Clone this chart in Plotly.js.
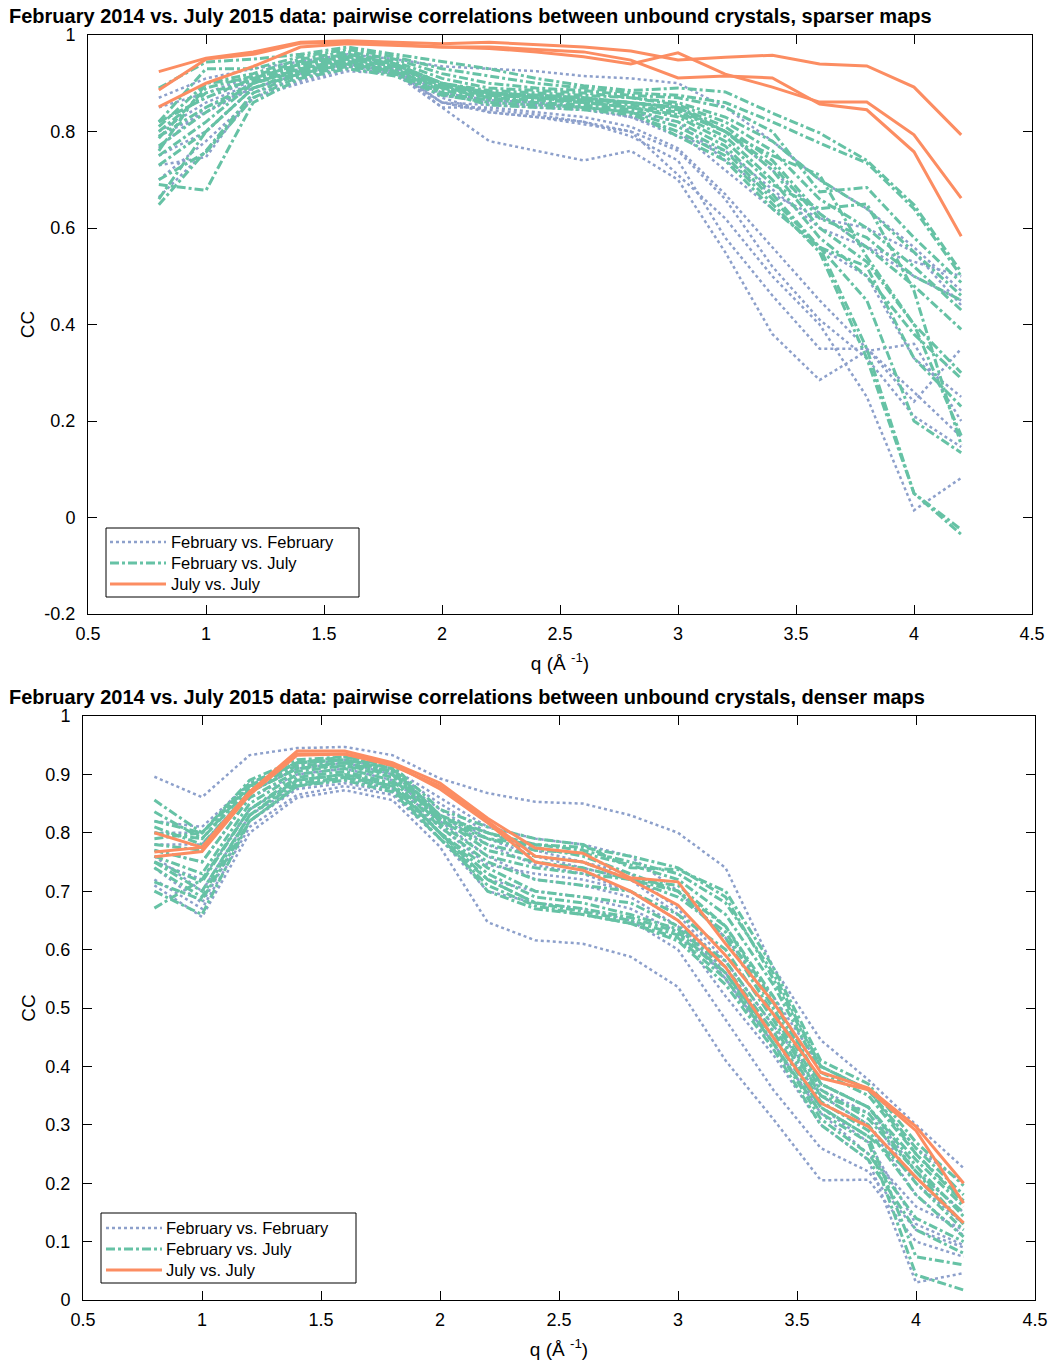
<!DOCTYPE html>
<html>
<head>
<meta charset="utf-8">
<script src="https://cdn.plot.ly/plotly-3.0.1.min.js"></script>
<style>html,body{margin:0;padding:0;background:#fff;}#chart{width:1049px;height:1365px;}</style>
</head>
<body>
<div id="chart"></div>
<script>
// q values (Å^-1)
const q = [0.8,1.0,1.2,1.4,1.6,1.8,2.0,2.2,2.4,2.6,2.8,3.0,3.2,3.4,3.6,3.8,4.0,4.2];

const seriesNames = ["February vs. February", "February vs. July", "July vs. July"];
const titleSparse = "February 2014 vs. July 2015 data: pairwise correlations between unbound crystals, sparser maps";
const titleDense  = "February 2014 vs. July 2015 data: pairwise correlations between unbound crystals, denser maps";
const xTickVals = [0.5,1,1.5,2,2.5,3,3.5,4,4.5];
const xTickText = ["0.5","1","1.5","2","2.5","3","3.5","4","4.5"];
const yTickValsSparse = [-0.2,0,0.2,0.4,0.6,0.8,1];
const yTickTextSparse = ["-0.2","0","0.2","0.4","0.6","0.8","1"];
const yTickValsDense = [0,0.1,0.2,0.3,0.4,0.5,0.6,0.7,0.8,0.9,1];
const yTickTextDense = ["0","0.1","0.2","0.3","0.4","0.5","0.6","0.7","0.8","0.9","1"];

// ---- sparser maps ----
const sparseFebFeb = [
  [0.87,0.91,0.93,0.945,0.96,0.95,0.935,0.93,0.925,0.915,0.91,0.90,0.85,0.78,0.70,0.64,0.56,0.47],
  [0.85,0.88,0.915,0.94,0.955,0.94,0.89,0.88,0.875,0.87,0.86,0.85,0.80,0.72,0.63,0.56,0.50,0.45],
  [0.80,0.86,0.90,0.93,0.945,0.93,0.86,0.855,0.85,0.845,0.83,0.79,0.76,0.68,0.60,0.56,0.53,0.50],
  [0.766,0.85,0.89,0.92,0.94,0.925,0.85,0.85,0.84,0.83,0.81,0.765,0.67,0.56,0.45,0.35,0.24,0.35],
  [0.664,0.76,0.87,0.905,0.93,0.92,0.85,0.78,0.76,0.74,0.76,0.70,0.55,0.38,0.285,0.345,0.36,0.20],
  [0.73,0.747,0.88,0.91,0.935,0.925,0.86,0.845,0.835,0.82,0.79,0.74,0.58,0.46,0.35,0.35,0.26,0.167],
  [0.75,0.80,0.89,0.92,0.94,0.93,0.87,0.84,0.83,0.815,0.80,0.76,0.66,0.52,0.41,0.33,0.21,0.146],
  [0.70,0.78,0.87,0.90,0.925,0.92,0.86,0.84,0.83,0.82,0.80,0.71,0.62,0.50,0.40,0.25,0.015,0.082],
  [0.79,0.84,0.89,0.915,0.94,0.93,0.88,0.865,0.86,0.85,0.83,0.80,0.72,0.64,0.56,0.50,0.33,0.25],
  [0.82,0.87,0.905,0.93,0.95,0.935,0.875,0.86,0.855,0.85,0.84,0.82,0.74,0.67,0.62,0.60,0.55,0.44]
];
const sparseFebJul = [
  [0.89,0.944,0.95,0.96,0.975,0.96,0.945,0.93,0.91,0.895,0.885,0.89,0.882,0.838,0.797,0.74,0.648,0.509],
  [0.82,0.93,0.93,0.955,0.97,0.955,0.93,0.915,0.90,0.89,0.88,0.875,0.86,0.82,0.776,0.735,0.64,0.50],
  [0.81,0.90,0.92,0.95,0.965,0.95,0.92,0.90,0.89,0.885,0.875,0.87,0.85,0.80,0.675,0.684,0.58,0.487],
  [0.786,0.89,0.915,0.945,0.96,0.945,0.91,0.89,0.885,0.88,0.87,0.86,0.83,0.78,0.70,0.64,0.55,0.46],
  [0.82,0.87,0.91,0.94,0.955,0.94,0.90,0.885,0.88,0.875,0.87,0.855,0.82,0.76,0.66,0.60,0.52,0.43],
  [0.79,0.85,0.90,0.93,0.95,0.935,0.895,0.88,0.875,0.87,0.86,0.85,0.81,0.74,0.63,0.56,0.48,0.39],
  [0.75,0.82,0.90,0.925,0.945,0.93,0.89,0.875,0.87,0.865,0.855,0.84,0.80,0.72,0.60,0.53,0.40,0.30],
  [0.73,0.80,0.89,0.92,0.94,0.925,0.885,0.87,0.865,0.86,0.85,0.835,0.79,0.70,0.58,0.50,0.38,0.288],
  [0.70,0.757,0.87,0.915,0.935,0.92,0.88,0.865,0.86,0.855,0.845,0.82,0.77,0.67,0.56,0.52,0.33,0.23],
  [0.69,0.678,0.86,0.91,0.93,0.915,0.875,0.86,0.855,0.85,0.84,0.81,0.76,0.66,0.56,0.45,0.20,0.134],
  [0.648,0.76,0.88,0.92,0.94,0.92,0.88,0.855,0.85,0.845,0.835,0.80,0.75,0.65,0.55,0.33,0.05,-0.035],
  [0.66,0.80,0.89,0.925,0.945,0.925,0.89,0.87,0.86,0.85,0.84,0.79,0.74,0.64,0.56,0.35,0.05,-0.025],
  [0.80,0.88,0.905,0.935,0.955,0.94,0.90,0.88,0.87,0.865,0.86,0.845,0.80,0.75,0.71,0.54,0.40,0.17],
  [0.77,0.84,0.90,0.93,0.95,0.935,0.895,0.875,0.87,0.86,0.85,0.83,0.78,0.69,0.64,0.65,0.47,0.15],
  [0.76,0.90,0.91,0.94,0.96,0.94,0.90,0.88,0.875,0.87,0.86,0.85,0.80,0.73,0.62,0.58,0.50,0.45]
];
const sparseJulJul = [
  [0.924,0.952,0.965,0.985,0.988,0.985,0.982,0.985,0.98,0.975,0.967,0.948,0.954,0.958,0.94,0.936,0.892,0.793],
  [0.886,0.95,0.96,0.983,0.985,0.98,0.975,0.972,0.965,0.955,0.94,0.963,0.919,0.892,0.861,0.861,0.793,0.662],
  [0.851,0.90,0.935,0.975,0.982,0.978,0.975,0.975,0.97,0.965,0.948,0.911,0.915,0.911,0.857,0.845,0.758,0.583]
];

// ---- denser maps ----
const denseFebFeb = [
  [0.896,0.861,0.933,0.945,0.947,0.933,0.893,0.868,0.853,0.85,0.83,0.80,0.74,0.57,0.445,0.377,0.30,0.226],
  [0.71,0.656,0.80,0.86,0.873,0.856,0.776,0.647,0.616,0.61,0.588,0.536,0.41,0.31,0.205,0.206,0.10,0.074],
  [0.74,0.68,0.82,0.875,0.885,0.87,0.80,0.72,0.70,0.69,0.67,0.63,0.52,0.42,0.30,0.24,0.03,0.046],
  [0.75,0.72,0.84,0.89,0.90,0.88,0.82,0.76,0.72,0.71,0.69,0.64,0.55,0.43,0.33,0.27,0.13,0.094],
  [0.77,0.75,0.86,0.90,0.91,0.89,0.83,0.78,0.745,0.73,0.70,0.65,0.56,0.45,0.35,0.30,0.18,0.11],
  [0.78,0.78,0.87,0.91,0.92,0.90,0.84,0.79,0.76,0.74,0.72,0.66,0.57,0.46,0.36,0.32,0.20,0.13],
  [0.80,0.80,0.88,0.92,0.925,0.905,0.85,0.80,0.77,0.75,0.73,0.67,0.58,0.47,0.37,0.33,0.22,0.15],
  [0.76,0.70,0.83,0.88,0.89,0.875,0.81,0.745,0.73,0.72,0.70,0.65,0.55,0.44,0.32,0.25,0.16,0.12],
  [0.82,0.81,0.885,0.915,0.925,0.91,0.86,0.81,0.79,0.78,0.76,0.70,0.62,0.52,0.40,0.36,0.26,0.20],
  [0.72,0.67,0.81,0.865,0.88,0.865,0.79,0.70,0.68,0.67,0.65,0.60,0.48,0.36,0.26,0.22,0.12,0.09]
];
const denseFebJul = [
  [0.856,0.80,0.89,0.925,0.93,0.915,0.84,0.81,0.79,0.78,0.74,0.737,0.70,0.57,0.41,0.37,0.27,0.196],
  [0.836,0.79,0.88,0.92,0.925,0.91,0.83,0.80,0.78,0.77,0.75,0.73,0.68,0.56,0.40,0.36,0.26,0.18],
  [0.81,0.78,0.87,0.91,0.92,0.90,0.82,0.79,0.77,0.765,0.745,0.72,0.66,0.54,0.39,0.35,0.25,0.166],
  [0.80,0.79,0.875,0.915,0.92,0.905,0.825,0.80,0.775,0.76,0.73,0.70,0.64,0.52,0.37,0.33,0.23,0.143],
  [0.79,0.80,0.88,0.92,0.925,0.905,0.82,0.78,0.76,0.75,0.72,0.69,0.63,0.50,0.36,0.31,0.22,0.13],
  [0.76,0.73,0.85,0.90,0.91,0.89,0.81,0.75,0.72,0.71,0.70,0.66,0.60,0.48,0.35,0.30,0.20,0.12],
  [0.75,0.716,0.84,0.895,0.905,0.885,0.80,0.74,0.70,0.69,0.68,0.64,0.58,0.47,0.34,0.29,0.18,0.108],
  [0.716,0.685,0.82,0.88,0.895,0.875,0.79,0.72,0.68,0.67,0.655,0.63,0.56,0.45,0.33,0.28,0.074,0.06],
  [0.671,0.72,0.84,0.89,0.90,0.885,0.80,0.70,0.67,0.66,0.645,0.62,0.55,0.44,0.32,0.27,0.043,0.017],
  [0.75,0.70,0.83,0.89,0.90,0.88,0.80,0.73,0.69,0.68,0.66,0.635,0.57,0.46,0.33,0.28,0.21,0.13],
  [0.77,0.75,0.86,0.905,0.915,0.895,0.815,0.76,0.74,0.73,0.72,0.70,0.62,0.49,0.35,0.32,0.22,0.15],
  [0.82,0.80,0.885,0.92,0.93,0.91,0.83,0.79,0.78,0.775,0.76,0.74,0.69,0.55,0.40,0.36,0.25,0.17],
  [0.74,0.69,0.83,0.885,0.895,0.88,0.80,0.72,0.68,0.665,0.65,0.625,0.56,0.44,0.31,0.25,0.14,0.10],
  [0.78,0.77,0.87,0.91,0.915,0.90,0.825,0.77,0.75,0.74,0.72,0.71,0.64,0.51,0.37,0.33,0.24,0.16],
  [0.70,0.66,0.82,0.88,0.89,0.87,0.79,0.71,0.675,0.66,0.645,0.615,0.54,0.43,0.30,0.24,0.12,0.08]
];
const denseJulJul = [
  [0.80,0.775,0.87,0.94,0.94,0.92,0.885,0.825,0.774,0.765,0.723,0.716,0.61,0.51,0.39,0.363,0.297,0.20],
  [0.767,0.775,0.87,0.935,0.935,0.915,0.88,0.82,0.76,0.75,0.72,0.676,0.59,0.49,0.38,0.36,0.29,0.166],
  [0.759,0.768,0.865,0.933,0.935,0.918,0.875,0.817,0.75,0.736,0.70,0.65,0.57,0.45,0.337,0.297,0.21,0.132]
];

const colors = ["#8da0cb", "#66c2a5", "#fc8d62"];
const dashes = ["dot", "9px,3px,3px,3px", "solid"];
const widths = [2.5, 3, 3];

const traces = [];
function addGroup(rows, gi, xa, ya) {
  rows.forEach((row) => {
    traces.push({
      x: q, y: row, type: "scatter", mode: "lines",
      xaxis: xa, yaxis: ya,
      name: seriesNames[gi],
      showlegend: false,
      line: {color: colors[gi], dash: dashes[gi], width: widths[gi]},
      hoverinfo: "x+y+name"
    });
  });
}
addGroup(sparseFebFeb, 0, "x", "y");
addGroup(sparseFebJul, 1, "x", "y");
addGroup(sparseJulJul, 2, "x", "y");
addGroup(denseFebFeb, 0, "x2", "y2");
addGroup(denseFebJul, 1, "x2", "y2");
addGroup(denseJulJul, 2, "x2", "y2");

const W = 1049, H = 1365;
const px = v => v / W;
const py = v => 1 - v / H;
const FAM = "Liberation Sans, Arial, Helvetica, sans-serif";
const font = {family: FAM, size: 18, color: "#000"};

function axisCommon() {
  return {
    showline: true, linecolor: "#000", linewidth: 1, mirror: "ticks",
    ticks: "inside", ticklen: 9, tickwidth: 1, tickcolor: "#000",
    showgrid: false, zeroline: false, tickfont: font
  };
}

// manual legends (box, line samples, labels)
const shapes = [];
const annotations = [];
function addLegend(left, top, right, bottom, lineX0, lineX1, textX, rowYs) {
  shapes.push({type: "rect", xref: "paper", yref: "paper",
    x0: px(left), x1: px(right), y0: py(bottom), y1: py(top),
    line: {color: "#000", width: 1}, fillcolor: "#fff", layer: "above"});
  rowYs.forEach((ry, gi) => {
    shapes.push({type: "line", xref: "paper", yref: "paper",
      x0: px(lineX0), x1: px(lineX1), y0: py(ry), y1: py(ry),
      line: {color: colors[gi], dash: dashes[gi], width: widths[gi]}, layer: "above"});
    annotations.push({text: seriesNames[gi], xref: "paper", yref: "paper",
      x: px(textX), y: py(ry), xanchor: "left", yanchor: "middle", showarrow: false,
      font: {family: FAM, size: 16.5, color: "#000"}});
  });
}
addLegend(106, 528, 359, 597, 110, 166, 169, [542, 563, 584]);
addLegend(101, 1213, 356, 1283, 106, 162, 164, [1228, 1249, 1270]);

annotations.push(
  {text: "<b>" + titleSparse + "</b>", xref: "paper", yref: "paper", x: px(7), y: py(16),
   xanchor: "left", yanchor: "middle", showarrow: false,
   font: {family: FAM, size: 20, color: "#000"}},
  {text: "<b>" + titleDense + "</b>", xref: "paper", yref: "paper", x: px(7), y: py(697),
   xanchor: "left", yanchor: "middle", showarrow: false,
   font: {family: FAM, size: 20, color: "#000"}}
);

const axTitleFont = {family: FAM, size: 19, color: "#000"};
const layout = {
  width: W, height: H,
  margin: {l: 0, r: 0, t: 0, b: 0},
  paper_bgcolor: "#fff", plot_bgcolor: "#fff",
  font: font,
  showlegend: false,
  xaxis: Object.assign(axisCommon(), {
    domain: [px(88), px(1032)], range: [0.5, 4.5], anchor: "y",
    tickvals: xTickVals, ticktext: xTickText, ticklabelstandoff: 3,
    title: {text: "q (Å <sup>-1</sup>)", font: axTitleFont, standoff: 14}
  }),
  yaxis: Object.assign(axisCommon(), {
    domain: [py(614), py(35)], range: [-0.2, 1], anchor: "x",
    tickvals: yTickValsSparse, ticktext: yTickTextSparse, ticklabelstandoff: 8,
    title: {text: "CC", font: axTitleFont, standoff: 4}
  }),
  xaxis2: Object.assign(axisCommon(), {
    domain: [px(83), px(1035)], range: [0.5, 4.5], anchor: "y2",
    tickvals: xTickVals, ticktext: xTickText, ticklabelstandoff: 3,
    title: {text: "q (Å <sup>-1</sup>)", font: axTitleFont, standoff: 14}
  }),
  yaxis2: Object.assign(axisCommon(), {
    domain: [py(1300), py(716)], range: [0, 1], anchor: "x2",
    tickvals: yTickValsDense, ticktext: yTickTextDense, ticklabelstandoff: 8,
    title: {text: "CC", font: axTitleFont, standoff: 4}
  }),
  shapes: shapes,
  annotations: annotations
};

Plotly.newPlot("chart", traces, layout, {displayModeBar: false});
</script>
</body>
</html>
